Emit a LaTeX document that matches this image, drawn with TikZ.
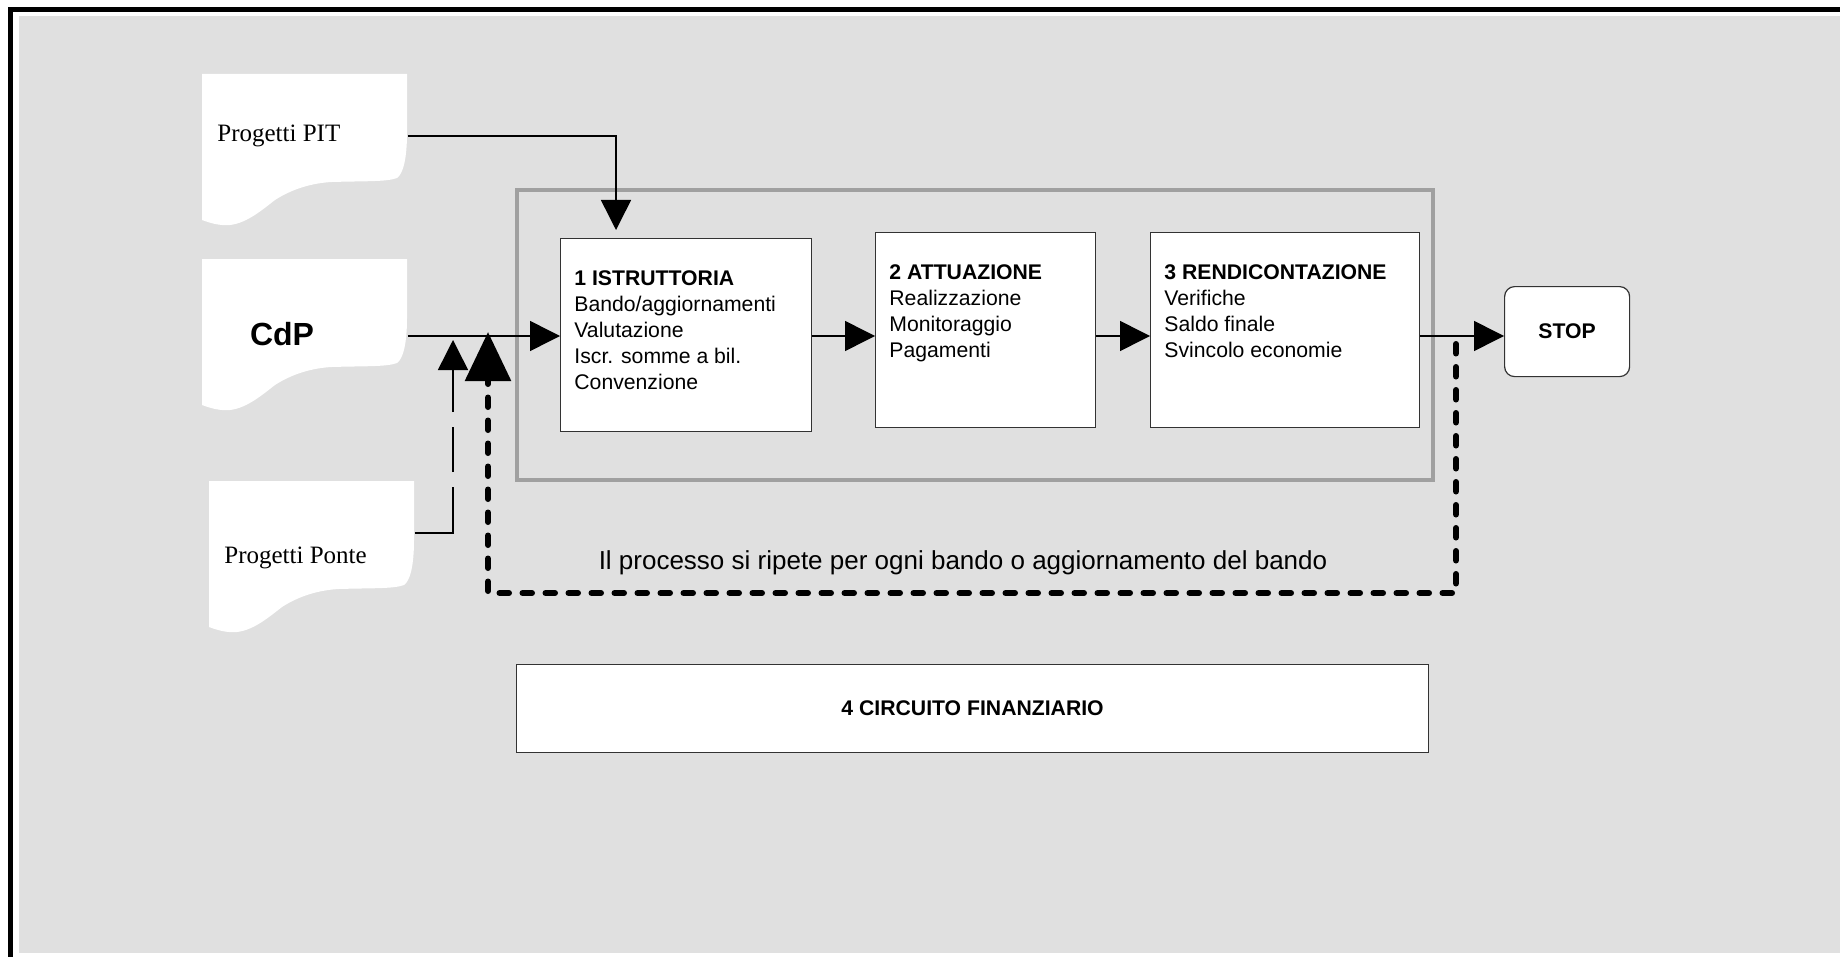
\documentclass[tikz,border=0pt]{standalone}
\usepackage{fontspec}
\setmainfont{Liberation Serif}
\setsansfont{Liberation Sans}
\usetikzlibrary{arrows.meta}

\definecolor{sfondo}{RGB}{224,224,224}
\definecolor{cornice}{RGB}{160,160,160}

\begin{document}
\begin{tikzpicture}[x=0.5pt,y=-0.5pt,
  fase/.style={draw=black!80, line width=0.6pt, fill=white, anchor=north west, inner sep=0pt},
  testo/.style={anchor=north west, align=left, inner sep=0pt, xshift=7pt, yshift=-16pt, font=\sffamily\fontsize{10.6}{13}\selectfont},
  titolo/.style={font=\sffamily\bfseries\fontsize{10.6}{13}\selectfont},
  foglio/.style={anchor=north west, inner sep=0pt, minimum width=102.5pt, minimum height=75.5pt},
  filo/.style={line width=0.75pt},
  punta/.style={-{Triangle[length=15pt,width=15pt]}},
  ritorno/.style={line width=3pt, line cap=round, dash pattern=on 4.75pt off 6.75pt, -{Triangle[length=24.5pt,width=22.5pt]}}
]

\useasboundingbox (0,0) rectangle (1840,957);
\fill [white] (0,0) rectangle (1840,957);
\clip (0,0) rectangle (1840,957);
\draw [line width=2.5pt] (10.5,9.5) rectangle (1900,1000);
\fill [sfondo] (19,16) rectangle (1840,953);

\coordinate (linea) at (0,336);
\coordinate (ponteT) at (453,340);
\coordinate (ritS) at (1456,344);
\coordinate (ritE) at (488,332);

\node [foglio] (pit) at (202,74) {};
\node [foglio] (cdp) at (202,259) {};
\node [foglio] (ponte) at (209,481) {};

\foreach \f in {pit,cdp,ponte}
  \fill [white, shift={(\f.north west)}]
  (0,0) -- (205,0) -- (205,59) .. controls (205,85) and (201,100) .. (195,104)
  .. controls (185,108) and (160,107) .. (130,108) .. controls (110,109) and (90,115) .. (73,126)
  .. controls (60,136) and (45,149) .. (28,151) .. controls (18,152) and (8,149) .. (0,146) -- cycle;

\node [anchor=west, inner sep=0pt, font=\fontsize{12.5}{15}\selectfont] (pittxt) at (217,136) {Progetti PIT};
\node [inner sep=0pt, font=\sffamily\bfseries\fontsize{16}{19}\selectfont] (cdptxt) at (282,334) {CdP};
\node [anchor=west, inner sep=0pt, font=\fontsize{12.5}{15}\selectfont] (pontetxt) at (224,558) {Progetti Ponte};

\draw [cornice, line width=2pt] (517,190) rectangle (1433,480);

\node [fase, minimum width=125.5pt, minimum height=96.5pt,
  label={[testo]north west:{\textbf{1 ISTRUTTORIA}\\Bando/aggiornamenti\\Valutazione\\Iscr. somme a bil.\\Convenzione}}] (b1) at (560,238) {};
\node [fase, minimum width=110pt, minimum height=97.5pt,
  label={[testo]north west:{\textbf{2 ATTUAZIONE}\\Realizzazione\\Monitoraggio\\Pagamenti}}] (b2) at (875,232) {};
\node [fase, minimum width=134.5pt, minimum height=97.5pt,
  label={[testo]north west:{\textbf{3 RENDICONTAZIONE}\\Verifiche\\Saldo finale\\Svincolo economie}}] (b3) at (1150,232) {};
\node [fase, titolo, rounded corners=5pt, minimum width=62.5pt, minimum height=45pt] (stop) at (1504,286) {STOP};
\node [fase, titolo, minimum width=456pt, minimum height=44pt] (b4) at (516,664) {4 CIRCUITO FINANZIARIO};

\draw [filo, punta] (cdp.east |- linea) -- (b1.west |- linea);
\draw [filo, punta] (b1.east |- linea) -- (b2.west |- linea);
\draw [filo, punta] (b2.east |- linea) -- (b3.west |- linea);
\draw [filo, punta] (b3.east |- linea) -- (stop.west |- linea);
\draw [filo, punta, shorten >=4pt] (pit.east |- pittxt) -| ([xshift=28pt]b1.north west);
\draw [filo, punta, dash pattern=on 42pt off 7.5pt on 22.5pt off 7.5pt on 22.5pt off 7.5pt] ([yshift=12pt]ponte.east) -| (ponteT);

\draw [ritorno] (ritS) -- ++(0,249) -| (ritE);

\node [inner sep=0pt, font=\sffamily\fontsize{13}{15}\selectfont] (nota) at (963,563) {Il processo si ripete per ogni bando o aggiornamento del bando};

\end{tikzpicture}
\end{document}
